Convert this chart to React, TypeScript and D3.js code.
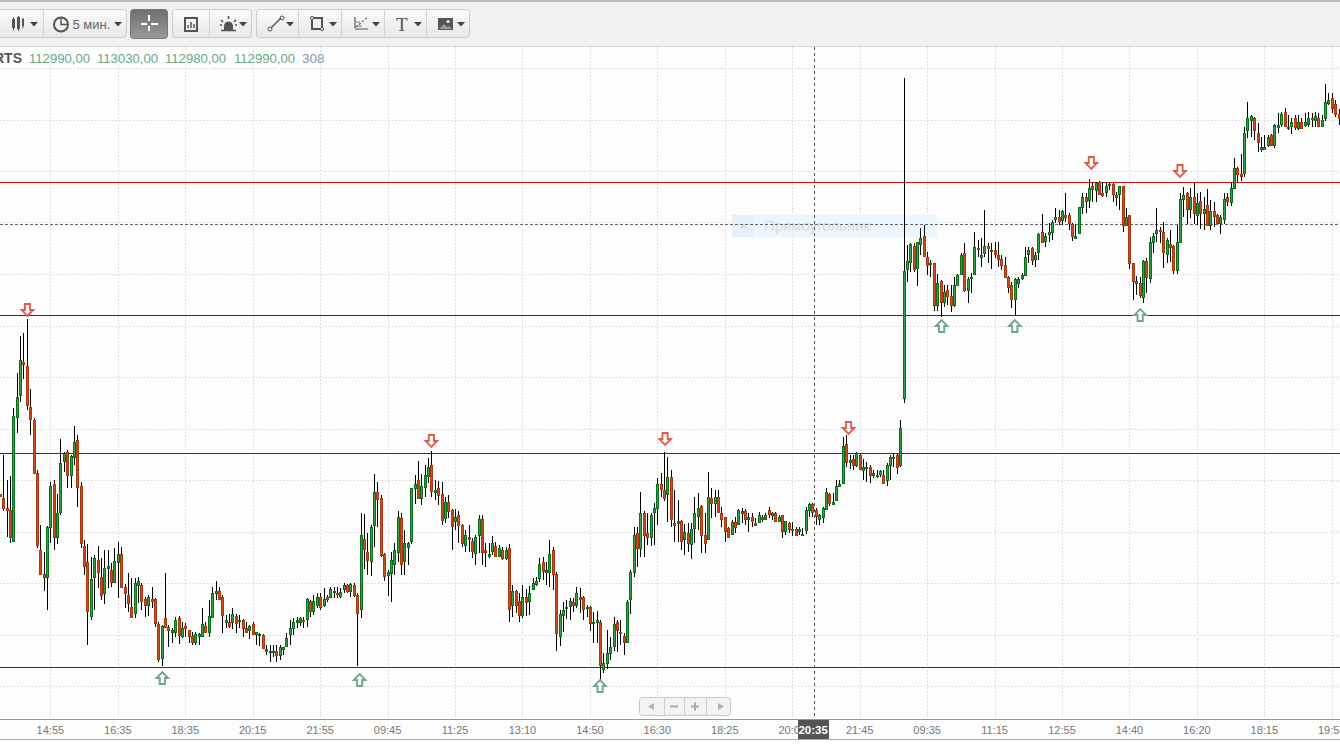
import React from "react";
import * as d3 from "d3";

// Price is stored in steps of 4 points above STEP_BASE (no price axis is visible in the picture).
const STEP_BASE = 112030;
const STEP_SIZE = 4;
const toPrice = (step: number) => STEP_BASE + STEP_SIZE * step;

const highs = [
256,295,270,274,342,377,414,417,431,361,
332,280,225,198,224,268,270,256,311,298,
300,295,324,315,268,210,206,193,195,204,
192,200,200,187,202,208,203,166,177,172,
172,173,167,153,155,163,152,128,125,177,
125,122,133,134,128,127,120,118,118,117,
142,128,150,163,169,163,155,135,136,142,
136,135,131,128,125,128,118,117,116,105,
105,105,105,105,103,117,130,132,133,133,
133,152,150,155,157,157,162,155,163,163,
163,162,167,166,167,167,157,237,236,217,
225,276,268,255,197,180,198,207,239,237,
220,208,262,275,289,276,285,292,299,270,
269,268,253,255,241,241,239,226,220,225,
212,215,235,235,207,207,214,208,205,203,
203,206,165,160,157,165,161,164,172,173,
192,193,188,210,203,178,140,148,150,152,
152,163,162,154,145,144,138,139,130,97,
120,113,133,130,130,117,150,180,223,223,
258,239,237,237,247,272,277,298,293,280,
260,250,230,226,227,227,253,257,245,237,
278,262,260,260,243,233,223,230,233,241,
242,241,237,237,232,238,235,237,243,238,
238,235,235,229,228,228,223,223,222,243,
247,247,242,236,243,262,257,257,270,270,
313,315,295,295,298,297,291,288,285,280,
280,280,280,287,295,297,297,330,672,505,
507,507,508,522,525,498,490,487,476,470,
465,465,465,473,476,497,507,473,477,518,
510,512,540,507,507,508,508,495,493,474,
468,472,473,477,503,503,503,498,517,536,
517,527,530,542,540,540,557,537,527,525,
543,557,557,571,568,568,569,568,568,568,
567,558,564,564,542,535,487,474,473,490,
492,513,517,542,523,528,512,520,505,525,
557,563,558,562,567,557,558,553,561,550,
548,536,535,557,557,568,592,583,596,623,
648,635,633,627,613,615,615,616,626,637,
638,642,635,632,635,635,632,637,638,637,
638,637,635,666,657,657,650,641];

const bodyTops = [
256,252,242,240,334,353,390,388,384,343,
330,277,200,176,223,264,266,237,287,297,
298,294,308,310,264,204,188,171,192,190,
173,182,184,180,189,196,196,163,155,143,
167,169,165,151,153,151,151,126,124,132,
123,120,130,132,122,124,120,114,116,116,
126,124,134,157,159,159,153,130,128,136,
134,130,130,122,124,126,118,116,115,101,
99,99,99,103,103,112,122,128,130,132,
130,151,149,149,153,153,151,153,161,159,
157,158,165,165,166,165,155,215,211,198,
223,258,258,252,196,178,190,200,233,232,
207,207,262,266,270,264,275,283,285,260,
262,256,248,248,240,233,235,225,215,213,
209,213,231,231,200,196,207,204,202,200,
200,202,159,159,149,153,153,157,167,169,
186,188,180,196,200,176,136,140,143,149,
148,157,153,153,143,143,128,130,128,87,
97,103,126,128,118,114,148,178,215,217,
237,237,217,235,242,266,266,260,273,273,
227,229,229,218,217,221,237,242,244,215,
253,252,253,253,237,233,222,228,228,240,
239,239,233,233,227,235,233,235,240,237,
237,233,235,229,227,221,221,221,216,240,
246,246,240,235,242,258,256,248,264,266,
304,306,290,291,297,295,283,283,283,277,
275,279,275,285,293,293,295,322,479,489,
506,504,508,512,514,493,487,487,467,469,
458,460,454,465,475,495,497,471,473,503,
502,495,504,504,500,500,495,491,485,473,
465,471,471,475,493,500,502,495,516,518,
514,518,528,533,533,539,535,535,526,514,
543,553,553,562,564,567,568,557,564,566,
566,555,564,564,533,535,487,469,467,489,
489,508,514,520,520,518,510,506,504,508,
551,555,557,553,553,547,549,541,545,539,
539,535,533,551,553,562,582,582,576,617,
632,634,632,617,603,603,613,615,625,625,
636,638,623,628,632,628,628,628,632,632,
634,632,630,648,650,652,646,636];

const bodyBottoms = [
254,242,240,213,209,333,355,386,345,331,
277,205,176,173,173,223,213,213,238,289,
275,275,293,263,207,184,139,134,173,178,
155,157,182,168,168,188,163,157,147,133,
137,165,149,145,145,149,127,91,92,123,
120,118,118,115,114,122,114,108,108,114,
114,118,118,133,157,151,135,128,124,128,
127,129,122,118,120,116,116,115,102,99,
98,98,95,95,101,104,116,122,128,128,
129,131,139,139,145,143,145,151,153,158,
156,154,161,159,159,155,137,141,201,190,
189,225,251,195,174,175,177,186,198,186,
189,203,209,262,252,252,263,274,259,258,
255,230,232,239,224,229,225,207,205,211,
199,197,215,198,198,194,199,194,194,192,
192,141,145,145,135,135,148,149,161,166,
172,179,178,178,176,117,114,135,142,144,
145,145,151,141,142,127,127,128,85,81,
87,97,104,120,117,108,108,151,178,202,
202,215,213,213,238,242,261,252,256,231,
225,227,209,211,207,206,222,234,215,207,
211,247,247,238,231,219,213,216,223,226,
237,231,231,229,225,228,231,231,236,235,
229,229,219,219,221,220,215,219,215,220,
240,238,234,231,233,241,247,246,250,264,
267,288,288,285,285,281,280,282,275,275,
274,276,267,270,285,292,283,285,352,481,
488,481,482,506,494,485,486,445,445,448,
448,454,445,445,465,476,460,460,472,476,
501,493,497,502,499,496,491,485,473,463,
451,451,467,472,475,496,490,491,498,508,
509,516,518,531,529,530,533,527,514,512,
517,543,549,550,561,560,556,555,558,565,
556,553,556,525,525,487,469,467,455,453,
473,472,508,517,519,498,496,503,480,480,
508,551,541,541,537,535,537,537,525,525,
534,527,527,531,549,548,562,576,574,577,
620,630,620,608,601,601,605,605,605,623,
626,624,622,624,623,622,622,625,626,631,
630,624,624,632,647,642,636,632];

const lows = [
254,239,213,207,208,317,348,371,340,315,
277,202,175,159,140,207,200,206,235,278,
262,262,285,243,202,175,105,130,140,162,
150,146,162,163,167,152,162,142,138,132,
132,147,140,133,134,142,123,88,84,122,
103,107,113,106,112,113,107,105,105,105,
113,117,113,133,150,150,117,122,122,121,
117,122,113,117,111,115,105,104,102,95,
88,93,88,90,95,103,105,115,122,124,
122,123,133,135,142,140,143,148,152,152,
152,152,157,157,153,153,84,132,181,175,
174,203,223,193,169,154,148,175,188,175,
175,185,206,246,251,245,253,267,253,250,
245,225,227,232,200,220,207,203,198,198,
192,185,197,185,183,192,195,193,193,190,
190,128,133,137,128,132,134,135,160,164,
168,170,165,163,160,99,104,118,131,130,
138,142,137,130,133,119,107,107,61,77,
81,90,99,98,105,95,107,136,173,183,
193,193,205,204,205,225,253,249,228,223,
208,208,200,195,198,191,207,220,197,197,
211,232,233,237,223,208,213,215,217,225,
227,225,218,223,224,227,228,230,232,230,
228,228,212,215,217,214,214,215,214,216,
233,233,225,225,227,240,244,245,249,263,
266,283,281,280,283,280,270,268,267,272,
272,273,266,264,270,283,276,283,347,468,
478,478,464,495,493,475,473,439,439,433,
443,445,438,443,465,475,458,447,457,476,
493,483,493,487,481,492,483,480,473,457,
442,435,462,470,475,487,485,483,490,507,
503,508,510,527,525,525,528,520,509,512,
517,536,537,542,548,548,556,553,553,560,
548,544,540,518,525,481,450,455,452,447,
457,467,497,508,507,482,487,488,476,476,
507,533,526,532,526,525,521,520,525,520,
523,527,516,526,544,544,562,567,569,573,
612,613,610,598,598,600,603,605,602,617,
623,623,620,616,620,620,621,623,623,623,
623,623,623,629,645,637,633,625];

// R = the bar fell, G = the bar rose.
const directions = [
"RRRRGGGRRR","RRRRGGRGGG","RGGRRRRGGR","RGGRGGRRRR","GGRRGRRRGR",
"RGGRGRRRGG","GRGGGRRGRG","RGRRGRGGRG","GGRGGGGGGG","RGRGGRGRGG",
"RGGRGRRGRR","GGRRRGGGGR","GGGGRGGGRG","RRGRRGRRGR","RGGRRGGRGR",
"GRGRRGRGGG","GRGGRRGGGG","RGRRGRGGRG","GGGRRRGGGR","GRRGGGRRGR",
"RGRGRGGGRR","GRGRRRRGRG","GRGRRGRGRG","RGRGRGRGGG","GRRGGGRGGG",
"GRGRGRGGRG","GGRGGGRGGG","GRGGRRGRGR","GRRGGGRGGG","RGGRGRRRRR",
"RGGGGGRGGR","GGGGRGRRRG","GGRGRGRRGG","RGGRGRRGRG","RGGGRRGRRG",
"GGRGRGRGRG","RRGGRGGRRG","GGRRGGGRGG","GRGGRGRGGR","GRGGGRRR"].join("");

const opens = bodyTops.map((t, i) => toPrice(directions[i] === "G" ? bodyBottoms[i] : t));
const closes = bodyTops.map((t, i) => toPrice(directions[i] === "G" ? t : bodyBottoms[i]));
const highPrices = highs.map(toPrice);
const lowPrices = lows.map(toPrice);

const timeLabels = ["14:55","16:35","18:35","20:15","21:55","09:45","11:25","13:10","14:50","16:30","18:25","20:00","21:45","09:35","11:15","12:55","14:40","16:20","18:15","19:55"];
const gridPrices = [112286,112492,112698,112904,113110,113316,113522,113728,113934,114140,114346,114552,114758];
const levelPrices = [114302,113770,113218,112362];
const dashedPrice = 114134;

const downBars = [8.2,128,197.3,251.7,323.7,350];
const downSteps = [440,309,311,322,587,579];
const upBars = [48.2,106.7,178,279.3,301,338.2];
const upSteps = [72,70,64,424,424,435];

const quote = ["112990,00","113030,00","112980,00","112990,00"];
const quoteX = [29,97,165,234];
const volumeText = "308";
const cursorBar = 241.5;
const cursorLabel = "20:35";

const xScale = d3.scaleLinear().domain([0, 397]).range([-0.2, 1338.5]);
const yScale = d3.scaleLinear().domain([STEP_BASE, STEP_BASE + 750 * STEP_SIZE]).range([750, 0]);
const cx = (b: number) => Math.round(xScale(b));
const cy = (p: number) => Math.round(yScale(p));

const FONT = "'Liberation Sans', Arial, sans-serif";

function Caret({ x }: { x: number }) {
  return <path d={`M${x - 4} 22 h8 l-4 4.5 z`} fill="#444" />;
}

function Toolbar() {
  const btn = (x: number, w: number, key: string) => (
    <rect key={key} x={x + 0.5} y={9.5} width={w - 1} height={28} rx={3} fill="url(#btnGrad)" stroke="#ccc" />
  );
  const seps = [43, 209, 298, 341, 384, 426];
  return (
    <g>
      <rect x={0} y={0} width={1340} height={47} fill="#f1f1f1" />
      <rect x={0} y={0} width={1340} height={2} fill="#bcbcbc" />
      <rect x={0} y={46} width={1340} height={1} fill="#d6d6d6" />
      {btn(-6, 133, "a")}
      {btn(172, 80, "b")}
      {btn(256, 214, "c")}
      <rect x={130.5} y={9.5} width={37} height={29} rx={3} fill="url(#btnDark)" stroke="#777" />
      {seps.map((x) => <line key={x} x1={x + 0.5} x2={x + 0.5} y1={10} y2={37} stroke="#d4d4d4" />)}
      {/* candles icon */}
      <g fill="#555" stroke="#555">
        <rect x={12.5} y={19.5} width={2} height={8} /><line x1={13.5} x2={13.5} y1={17} y2={30} />
        <rect x={17.5} y={17.5} width={2} height={11} /><line x1={18.5} x2={18.5} y1={16} y2={31} />
        <rect x={22.5} y={19.5} width={1} height={6} /><line x1={23} x2={23} y1={18} y2={28} />
      </g>
      <Caret x={34} />
      {/* clock */}
      <circle cx={61} cy={24.5} r={7} fill="none" stroke="#555" strokeWidth={2} />
      <path d="M61 18.5 v6 h6" fill="none" stroke="#555" strokeWidth={1.5} />
      <text x={72.5} y={29} fontFamily={FONT} fontSize={13} fill="#666">5 мин.</text>
      <Caret x={118} />
      {/* crosshair */}
      <g stroke="#fff" strokeWidth={2}>
        <line x1={141} x2={147} y1={24} y2={24} /><line x1={151} x2={158} y1={24} y2={24} />
        <line x1={149} x2={149} y1={15} y2={21} /><line x1={149} x2={149} y1={26} y2={31} />
      </g>
      {/* report */}
      <rect x={185} y={18} width={12} height={13} fill="none" stroke="#555" strokeWidth={2} />
      <path d="M188 28 v-3 M191 28 v-6 M194 28 v-4" stroke="#555" strokeWidth={1.5} />
      {/* alert */}
      <path d="M224 30 v-4 a4.5 4.5 0 0 1 9 0 v4 z" fill="#555" />
      <path d="M221 30.5 h15 M221 20 l2 2 M236 20 l-2 2 M228.5 16 v3 M220 25 h2 M235 25 h2" stroke="#555" strokeWidth={1.6} />
      <Caret x={243} />
      {/* line tool */}
      <line x1={271} x2={281} y1={28} y2={18} stroke="#555" strokeWidth={1.5} />
      <circle cx={270} cy={29} r={2} fill="none" stroke="#555" /><circle cx={282} cy={18} r={2} fill="none" stroke="#555" />
      <Caret x={290} />
      {/* box */}
      <rect x={312} y={18} width={10} height={11} fill="none" stroke="#555" strokeWidth={2} />
      <circle cx={312} cy={18} r={1.6} fill="#eee" stroke="#555" /><circle cx={322} cy={29} r={1.6} fill="#eee" stroke="#555" />
      <Caret x={333} />
      {/* fib */}
      <path d="M355 17 v11 M355 29 h13" stroke="#555" strokeWidth={1.2} fill="none" />
      <path d="M356 27 l12 -10" stroke="#555" strokeWidth={1.2} strokeDasharray="2 2" />
      <path d="M356 22 h4 M356 26 h6" stroke="#777" strokeWidth={1} />
      <Caret x={376} />
      <text x={396} y={31} fontFamily="'Liberation Serif', serif" fontSize={19} fill="#555">T</text>
      <Caret x={418} />
      {/* image */}
      <rect x={438} y={18} width={15} height={12} fill="#555" />
      <circle cx={448} cy={21.5} r={1.6} fill="#eee" />
      <path d="M439 29 l5 -5 l3 3 l2 -1 l3 3 z" fill="#999" />
      <Caret x={461} />
    </g>
  );
}

export default function App() {
  const n = highs.length;
  const gridBars = timeLabels.map((_, k) => 15 + 20 * k);
  return (
    <svg width={1340} height={750} style={{ position: "absolute", left: 0, top: 0, display: "block" }}>
      <defs>
        <linearGradient id="btnGrad" x1="0" x2="0" y1="0" y2="1">
          <stop offset="0" stopColor="#fafafa" /><stop offset="1" stopColor="#e8e8e8" />
        </linearGradient>
        <linearGradient id="btnDark" x1="0" x2="0" y1="0" y2="1">
          <stop offset="0" stopColor="#6f6f6f" /><stop offset="1" stopColor="#999" />
        </linearGradient>
      </defs>
      <rect x={0} y={0} width={1340} height={750} fill="#fdfdfd" />
      <Toolbar />

      {/* grid */}
      {gridBars.map((b) => (
        <line key={b} x1={cx(b) + 0.5} x2={cx(b) + 0.5} y1={47} y2={719} stroke="#d6d6d6" strokeDasharray="1.5 2" />
      ))}
      {gridPrices.map((p) => (
        <line key={p} x1={0} x2={1340} y1={cy(p) + 0.5} y2={cy(p) + 0.5} stroke="#d6d9d0" strokeDasharray="1.5 2" />
      ))}

      {/* header quote */}
      <text x={-6} y={63} fontFamily={FONT} fontSize={14} fontWeight={700} fill="#555">RTS</text>
      {quote.map((q, i) => (
        <text key={i} x={quoteX[i]} y={63} fontFamily={FONT} fontSize={13.5} textLength={61} lengthAdjust="spacingAndGlyphs" fill="#69a98a">{q}</text>
      ))}
      <text x={302} y={63} fontFamily={FONT} fontSize={13.5} fill="#7d99b5">{volumeText}</text>

      {/* rectangle drawing */}
      <rect x={732} y={215} width={205} height={22} fill="#edf5fd" />
      <rect x={732} y={215} width={22} height={22} fill="#e6f0fb" />
      <circle cx={743} cy={226} r={2.5} fill="#d8dfe6" />
      <text x={764} y={231} fontFamily={FONT} fontSize={15} fill="#dcdcdc">Прямоугольник</text>

      {/* level lines */}
      {levelPrices.map((p, i) => (
        <line key={p} x1={0} x2={1340} y1={cy(p) + 0.5} y2={cy(p) + 0.5} stroke={i === 0 ? "#d81010" : "#8e0c0c"} />
      ))}
      <line x1={0} x2={1340} y1={cy(dashedPrice) + 0.5} y2={cy(dashedPrice) + 0.5} stroke="#666" strokeDasharray="3 2" />
      <line x1={814.5} x2={814.5} y1={47} y2={719} stroke="#555" strokeDasharray="3 3" />

      {/* candles */}
      {d3.range(n).map((i) => {
        const x = cx(i);
        const up = closes[i] >= opens[i];
        const top = cy(Math.max(opens[i], closes[i]));
        const bottom = cy(Math.min(opens[i], closes[i]));
        return (
          <g key={i}>
            <line x1={x + 0.5} x2={x + 0.5} y1={cy(highPrices[i])} y2={cy(lowPrices[i])} stroke="#000" />
            <rect x={x - 0.5} y={top + 0.5} width={2} height={Math.max(1, bottom - top)}
              fill={up ? "#35a046" : "#cc4c1c"} stroke={up ? "#0b6e1c" : "#a93810"} />
          </g>
        );
      })}

      {/* turning point arrows */}
      {downBars.map((b, i) => (
        <path key={i} transform={`translate(${xScale(b)},${yScale(toPrice(downSteps[i]))})`}
          d="M-2.6 -6 H2.6 V0 H5.8 L0 6 L-5.8 0 H-2.6 Z" fill="#fff" stroke="#e25c4b" strokeWidth={1.9} />
      ))}
      {upBars.map((b, i) => (
        <path key={i} transform={`translate(${xScale(b)},${yScale(toPrice(upSteps[i]))})`}
          d="M-2.6 6 H2.6 V0 H5.8 L0 -6 L-5.8 0 H-2.6 Z" fill="#fff" stroke="#6fa78d" strokeWidth={1.9} />
      ))}

      {/* navigation control */}
      <rect x={639.5} y={697.5} width={91} height={18} rx={3} fill="#f3f3f3" stroke="#c8c8c8" />
      {[664, 684, 706].map((x) => <line key={x} x1={x + 0.5} x2={x + 0.5} y1={698} y2={715} stroke="#d0d0d0" />)}
      <path d="M648 706.5 l6 -3.5 v7 z M718 703 l6 3.5 l-6 3.5 z" fill="#b0b0b0" />
      <path d="M670 706.5 h8 M691 706.5 h8 M695 702.5 v8" stroke="#a8a8a8" strokeWidth={2} />

      {/* time axis */}
      <rect x={0} y={719} width={1340} height={1} fill="#999" />
      <rect x={0} y={720} width={1340} height={19} fill="#fdfdfd" />
      <rect x={0} y={739} width={1340} height={1} fill="#aaa" />
      <rect x={0} y={740} width={1340} height={10} fill="#fff" />
      {timeLabels.map((t, k) => (
        <text key={t + k} x={xScale(gridBars[k])} y={734} textAnchor="middle" fontFamily={FONT} fontSize={11} fill="#777">{t}</text>
      ))}
      <rect x={798} y={720} width={31} height={19} fill="#555" />
      <text x={xScale(cursorBar) - 1} y={734} textAnchor="middle" fontFamily={FONT} fontSize={11.5} fontWeight={700} fill="#fff">{cursorLabel}</text>
    </svg>
  );
}
